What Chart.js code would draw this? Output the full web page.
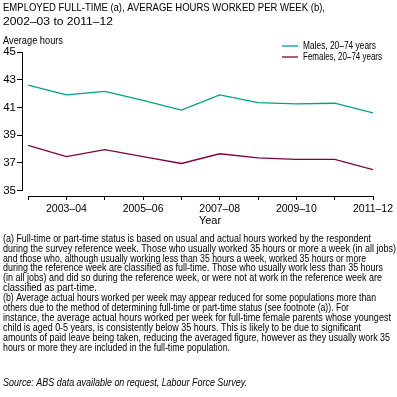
<!DOCTYPE html>
<html>
<head>
<meta charset="utf-8">
<script src="https://cdn.jsdelivr.net/npm/chart.js@4/dist/chart.umd.min.js"></script>
<style>
  html, body { margin: 0; padding: 0; background: #fff; }
  #wrap { width: 397px; height: 397px; }
</style>
</head>
<body>
<div id="wrap"><canvas id="chart" width="397" height="397"></canvas></div>
<script>
// values
const years = ['2002–03', '2003–04', '2004–05', '2005–06', '2006–07', '2007–08', '2008–09', '2009–10', '2010–11', '2011–12'];
const males = [42.6, 41.9, 42.15, 41.5, 40.8, 41.9, 41.35, 41.25, 41.3, 40.6];
const females = [38.25, 37.45, 37.95, 37.45, 36.95, 37.65, 37.35, 37.25, 37.25, 36.5];
const yTicks = [35, 37, 39, 41, 43, 45];

const titleLines = ['EMPLOYED FULL-TIME (a), AVERAGE HOURS WORKED PER WEEK (b),', '2002–03 to 2011–12'];
const footnotes = [
  '(a) Full-time or part-time status is based on usual and actual hours worked by the respondent',
  'during the survey reference week. Those who usually worked 35 hours or more a week (in all jobs)',
  'and those who, although usually working less than 35 hours a week, worked 35 hours or more',
  'during the reference week are classified as full-time. Those who usually work less than 35 hours',
  '(in all jobs) and did so during the reference week, or were not at work in the reference week are',
  'classified as part-time.',
  '(b) Average actual hours worked per week may appear reduced for some populations more than',
  'others due to the method of determining full-time or part-time status (see footnote (a)). For',
  'instance, the average actual hours worked per week for full-time female parents whose youngest',
  'child is aged 0-5 years, is consistently below 35 hours. This is likely to be due to significant',
  'amounts of paid leave being taken, reducing the averaged figure, however as they usually work 35',
  'hours or more they are included in the full-time population.'
];
const source = 'Source: ABS data available on request, Labour Force Survey.';

// layout: right edge of each footnote line as seen in the reference
const footRight = [371, 396, 366, 383, 382, 97, 376, 349, 391, 361, 390, 230];
const legendRight = [376, 382];

const TEAL = '#00a08a';
const MAROON = '#7d0044';
const FAMILY = '"Liberation Sans", Arial, sans-serif';

// draws one line of text; if w is given the line is stretched/squeezed to that width
function text(ctx, s, x, y, size, opts){
  opts = opts || {};
  ctx.save();
  ctx.font = (opts.italic ? 'italic ' : '') + size + 'px ' + FAMILY;
  ctx.fillStyle = '#000';
  ctx.textBaseline = 'middle';
  ctx.textAlign = opts.align || 'left';
  ctx.translate(x, y);
  const sx = opts.w ? opts.w / ctx.measureText(s).width : 1;
  ctx.scale(sx, 1);
  ctx.fillText(s, 0, 0);
  ctx.restore();
}

const decor = {
  id: 'decor',
  afterDraw(chart){
    const ctx = chart.ctx;
    const xs = chart.scales.x, ys = chart.scales.y;
    const area = chart.chartArea;

    // axis lines: y stops at 35, x starts at first year
    ctx.save();
    ctx.strokeStyle = '#000';
    ctx.lineWidth = 1;
    ctx.beginPath();
    const ax = Math.round(area.left) + 0.5;
    ctx.moveTo(ax, Math.round(ys.getPixelForValue(yTicks[yTicks.length - 1])));
    ctx.lineTo(ax, Math.round(ys.getPixelForValue(yTicks[0])) + 1);
    const ay = Math.round(area.bottom) + 0.5;
    ctx.moveTo(Math.round(xs.getPixelForValue(0)), ay);
    ctx.lineTo(Math.round(xs.getPixelForValue(years.length - 1)) + 1, ay);
    ctx.stroke();
    ctx.restore();

    // title
    text(ctx, titleLines[0], 3, 8, 11.5, { w: 322 });
    text(ctx, titleLines[1], 3, 22, 11.5, { w: 110 });
    text(ctx, 'Average hours', 3, 41, 11, { w: 60 });

    // legend
    chart.data.datasets.forEach((ds, i) => {
      const y = 46 + i * 11;
      ctx.save();
      ctx.strokeStyle = ds.borderColor;
      ctx.lineWidth = 1.3;
      ctx.beginPath();
      ctx.moveTo(282, y);
      ctx.lineTo(298, y);
      ctx.stroke();
      ctx.restore();
      text(ctx, ds.label, 303, y, 10, { w: legendRight[i] - 303 });
    });

    text(ctx, 'Year', 210, 221, 11, { align: 'center' });

    footnotes.forEach((line, i) => {
      text(ctx, line, 3, 239 + i * 9.9, 10, { w: footRight[i] - 3 });
    });
    text(ctx, source, 3, 383, 10, { italic: true, w: 244 });
  }
};

new Chart(document.getElementById('chart').getContext('2d'), {
  type: 'line',
  data: {
    datasets: [
      {
        label: 'Males, 20–74 years',
        data: males.map((v, i) => ({ x: i, y: v })),
        borderColor: TEAL,
        borderWidth: 1.3,
        pointRadius: 0,
        tension: 0,
        fill: false
      },
      {
        label: 'Females, 20–74 years',
        data: females.map((v, i) => ({ x: i, y: v })),
        borderColor: MAROON,
        borderWidth: 1.3,
        pointRadius: 0,
        tension: 0,
        fill: false
      }
    ]
  },
  options: {
    responsive: false,
    animation: false,
    layout: { padding: { top: 52, right: 24, left: 0, bottom: 0 } },
    plugins: { legend: { display: false }, tooltip: { enabled: false } },
    scales: {
      x: {
        type: 'linear',
        min: -0.16,
        max: years.length - 1,
        afterBuildTicks: s => { s.ticks = years.map((_, i) => ({ value: i })); },
        afterFit: s => { s.height = 201; },
        border: { display: false },
        grid: { drawOnChartArea: false, drawTicks: true, tickLength: 4, color: '#000', lineWidth: 1 },
        ticks: {
          autoSkip: false,
          maxRotation: 0,
          padding: 3,
          color: '#000',
          font: { family: FAMILY, size: 10.5 },
          callback: v => (v % 2 === 1 ? years[v] : '')
        }
      },
      y: {
        min: 34.6,
        max: 45,
        afterBuildTicks: s => { s.ticks = yTicks.map(v => ({ value: v })); },
        afterFit: s => { s.width = 22; },
        border: { display: false },
        grid: { drawOnChartArea: false, drawTicks: true, tickLength: 5, color: '#000', lineWidth: 1 },
        ticks: {
          padding: 1,
          color: '#000',
          font: { family: FAMILY, size: 11.5 }
        }
      }
    }
  },
  plugins: [decor]
});
</script>
</body>
</html>
